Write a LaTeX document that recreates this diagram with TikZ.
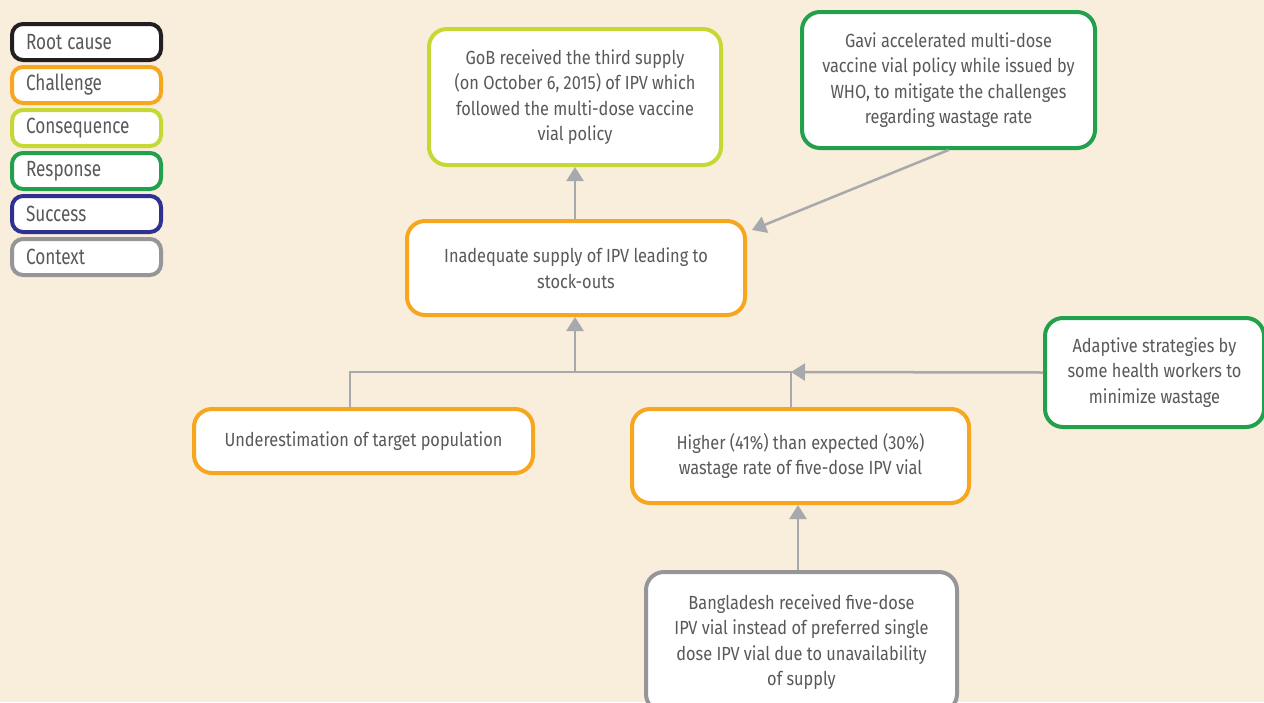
\documentclass[tikz,border=0pt]{standalone}
\usepackage{fontspec}
\setmainfont{Fira Sans}[FakeStretch=0.86]
\newfontfamily\legfont{Fira Sans}[FakeStretch=0.78]
\usetikzlibrary{arrows.meta}
\definecolor{bg}{RGB}{249,237,220}
\definecolor{txt}{RGB}{88,89,91}
\definecolor{cRoot}{RGB}{35,31,32}
\definecolor{cChal}{RGB}{247,166,32}
\definecolor{cCons}{RGB}{197,216,52}
\definecolor{cResp}{RGB}{34,160,75}
\definecolor{cSucc}{RGB}{46,49,146}
\definecolor{cCtx}{RGB}{150,150,152}
\definecolor{conn}{RGB}{167,169,172}
\tikzset{
  box/.style={draw, line width=4pt, rounded corners=18pt, fill=white, text=txt,
    align=center, inner sep=0pt, font=\fontsize{19}{25.5}\selectfont},
  legbox/.style={draw, line width=4pt, rounded corners=11pt, fill=white, text=txt,
    minimum width=149pt, minimum height=36pt, text width=121pt, align=left,
    inner sep=0pt, font=\legfont\fontsize{22}{26}\selectfont},
  link/.style={draw=conn, line width=2.5pt},
  arr/.style={link, -{Triangle[width=17pt,length=14pt]}},
}
\begin{document}
\begin{tikzpicture}[x=1pt,y=-1pt]
\fill[bg] (0,0) rectangle (1264,702);
\useasboundingbox (0,0) rectangle (1264,702);
\clip (0,0) rectangle (1264,702);
% legend
\node[legbox, draw=cRoot] (lroot) at (86.5,42) {Root\hspace{5pt}cause};
\node[legbox, draw=cChal] (lchal) at (86.5,85) {Challenge};
\node[legbox, draw=cCons] (lcons) at (86.5,128) {Consequence};
\node[legbox, draw=cResp] (lresp) at (86.5,171) {Response};
\node[legbox, draw=cSucc] (lsucc) at (86.5,214) {Success};
\node[legbox, draw=cCtx] (lctx) at (86.5,257) {Context};
% boxes
\node[box, draw=cCons, minimum width=292pt, minimum height=136pt] (gob) at (575,97)
  {GoB received the third supply\\(on October 6, 2015) of IPV which\\followed the multi-dose vaccine\\vial policy};
\node[box, draw=cResp, minimum width=293pt, minimum height=136pt] (gavi) at (948.5,80)
  {Gavi accelerated multi-dose\\vaccine vial policy while issued by\\WHO, to mitigate the challenges\\regarding wastage rate};
\node[box, draw=cChal, minimum width=338pt, minimum height=94pt] (inad) at (576,268)
  {Inadequate supply of IPV leading to\\stock-outs};
\node[box, draw=cChal, minimum width=339pt, minimum height=64pt] (under) at (363.5,441)
  {Underestimation of target population};
\node[box, draw=cChal, minimum width=337pt, minimum height=94pt] (high) at (800.5,456)
  {Higher (41\%) than expected (30\%)\\wastage rate of five-dose IPV vial};
\node[box, draw=cResp, minimum width=219pt, minimum height=109pt] (adapt) at (1154.5,372.5)
  {Adaptive strategies by\\some health workers to\\minimize wastage};
\node[box, draw=cCtx, minimum width=311pt, minimum height=140pt] (bang) at (801.5,642)
  {Bangladesh received five-dose\\IPV vial instead of preferred single\\dose IPV vial due to unavailability\\of supply};
% connectors
\coordinate (j1) at (350,372);
\coordinate (jm) at (575,372);
\coordinate (j2) at (791,372);
\coordinate (gtip) at (752,230);
\draw[arr] (inad.north -| jm) -- (gob.south -| jm);
\draw[arr] (gavi.south) -- (gtip);
\draw[link] (under.north -| j1) -- (j1) -- (j2) -- (high.north -| j2);
\draw[arr] (jm) -- (inad.south -| jm);
\draw[arr] (adapt.west) -- (j2);
\draw[arr] (bang.north -| 798,0) -- (high.south -| 798,0);
\end{tikzpicture}
\end{document}
